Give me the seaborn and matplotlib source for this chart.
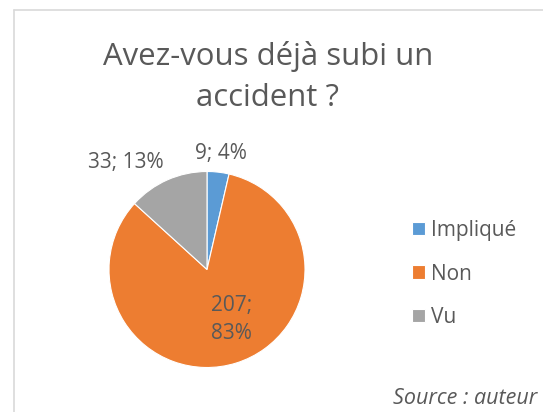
import numpy as np
import matplotlib
matplotlib.use("Agg")
import matplotlib.pyplot as plt
from matplotlib.lines import Line2D
import seaborn as sns

# Survey answers: "Avez-vous déjà subi un accident ?"
categories = ["Impliqué", "Non", "Vu"]
counts = [9, 207, 33]
percents = [4, 83, 13]
colors = ["#5B9BD5", "#ED7D31", "#A5A5A5"]

sns.set_theme(style="white")
plt.rcParams["font.family"] = ["Open Sans", "DejaVu Sans"]
text_color = "#595959"

W, H = 543, 412
fig = plt.figure(figsize=(W / 100, H / 100), dpi=100)


def fx(px):
    return px / W


def fy(py):
    return 1 - py / H


# chart frame (left and top edges visible)
frame = dict(transform=fig.transFigure, color="#D9D9D9", lw=1.2)
fig.add_artist(Line2D([fx(13.5), fx(13.5)], [0, fy(9.5)], **frame))
fig.add_artist(Line2D([fx(13.5), 1], [fy(9.5), fy(9.5)], **frame))

# pie axes: square in pixels
cx, cy, r = 207, 269.5, 98
ax = fig.add_axes([fx(cx - r), fy(cy + r), 2 * r / W, 2 * r / H])
wedges, _ = ax.pie(counts, colors=colors, startangle=90, counterclock=False,
                   wedgeprops=dict(edgecolor="white", linewidth=0.8))
ax.set_xlim(-1, 1)
ax.set_ylim(-1, 1)
ax.set_axis_off()

# data labels "n; p%" placed along each slice's mid angle
label_text = [f"{c}; {p}%" for c, p in zip(counts, percents)]
label_text[1] = f"{counts[1]};\n{percents[1]}%"
label_radius = [1.19, 0.57, 1.37]
angle_nudge = [-0.5, 9, 13.5]
total = sum(counts)
start = 0.0
for i, c in enumerate(counts):
    frac = c / total * 360
    mid = 90 - (start + frac / 2) + angle_nudge[i]
    start += frac
    x = label_radius[i] * np.cos(np.radians(mid))
    y = label_radius[i] * np.sin(np.radians(mid))
    ax.text(x, y, label_text[i], ha="center", va="center", fontsize=15,
            color=text_color, linespacing=1.4, clip_on=False)

# title, two lines
title_lines = ["Avez-vous déjà subi un", "accident ?"]
for line, base in zip(title_lines, [65, 106]):
    fig.text(fx(268), fy(base), line, ha="center", va="baseline",
             fontsize=22.4, color=text_color)

# legend
ax.legend(wedges, categories, loc="center left", bbox_to_anchor=(fx(412), fy(274)),
          bbox_transform=fig.transFigure, frameon=False, fontsize=15,
          handlelength=0.62, handleheight=0.62, handletextpad=0.3, labelspacing=1.08,
          labelcolor=text_color, borderpad=0, borderaxespad=0)

# source note
fig.text(fx(537), fy(404), "Source : auteur", ha="right", va="baseline",
         fontsize=15.5, style="italic", color=text_color)

fig.savefig("out.png", dpi=100)
